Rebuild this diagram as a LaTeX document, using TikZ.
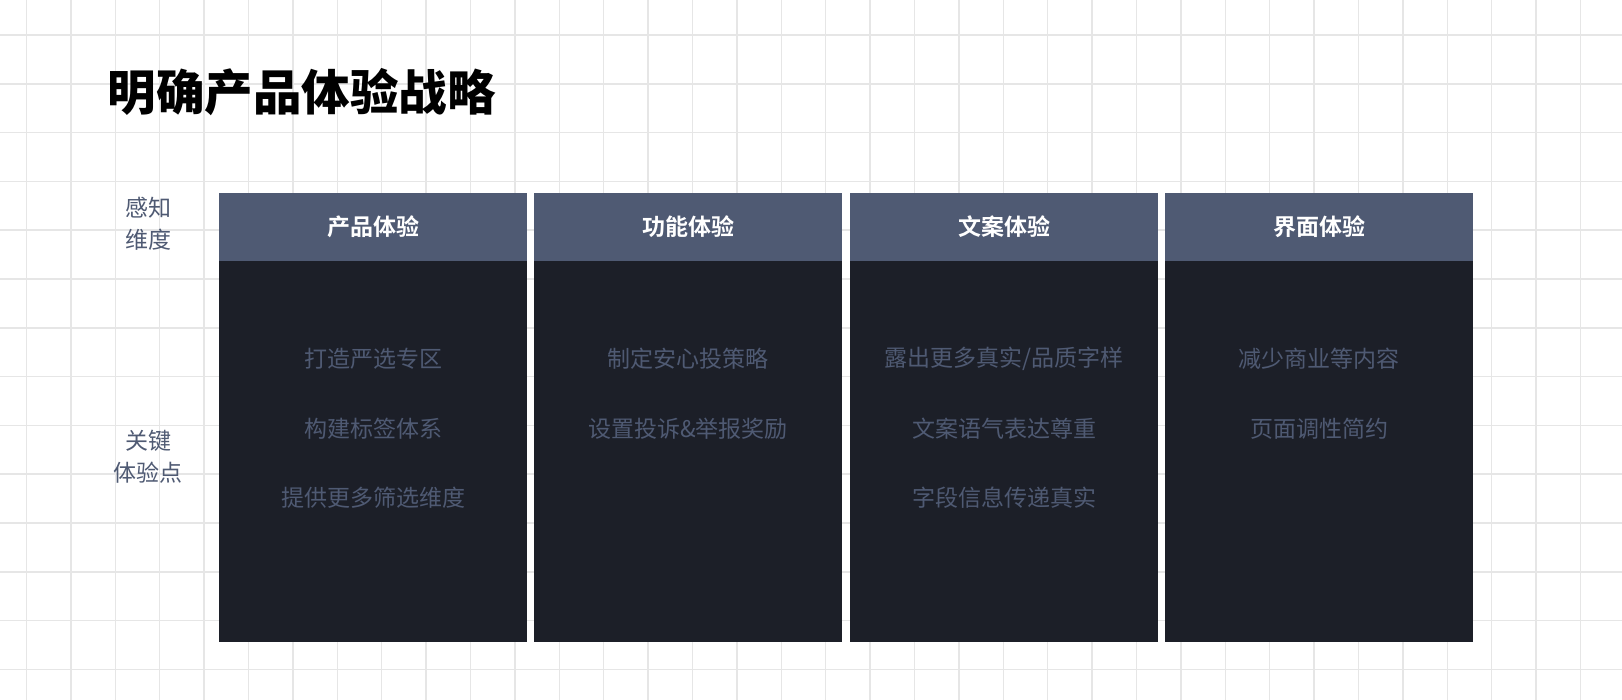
\documentclass[tikz,border=0pt]{standalone}
\usepackage{fontspec}
\newfontfamily\cjk{Noto Sans CJK SC}[BoldFont={Noto Sans CJK SC Bold}]
\newfontfamily\cjktitle{Noto Sans CJK SC Black}
\definecolor{gridgray}{HTML}{E6E6E6}
\definecolor{headblue}{HTML}{4F5A73}
\definecolor{bodydark}{HTML}{1C1F28}
\definecolor{textblue}{HTML}{4F5A73}
\tikzset{
  headbox/.style={fill=headblue, minimum width=308pt, minimum height=68pt, inner sep=0pt,
    text=white, font=\cjk\bfseries\fontsize{23}{23}\selectfont},
  bodybox/.style={fill=bodydark, minimum width=308pt, minimum height=381pt, inner sep=0pt},
  item/.style={text=textblue, font=\cjk\fontsize{23}{23}\selectfont},
  side/.style={text=textblue, align=center, font=\cjk\fontsize{23}{32}\selectfont}
}
\begin{document}
\begin{tikzpicture}[x=1pt,y=-1pt]
  \useasboundingbox (0,0) rectangle (1622,700);
  \fill[white] (0,0) rectangle (1622,700);
  \foreach \i in {0,...,36} \draw[gridgray, line width=1.5pt] (26.5+44.4*\i,0) -- (26.5+44.4*\i,700);
  \foreach \j in {0,...,13} \draw[gridgray, line width=1.5pt] (0,35+48.8*\j) -- (1622,35+48.8*\j);
  \node[anchor=west, font=\cjktitle\fontsize{48.5}{48.5}\selectfont] (title) at (104,92) {明确产品体验战略};
  \node[side] (perceive) at (148,224) {感知\\维度};
  \node[side] (keypoint) at (148,457) {关键\\体验点};
  \foreach \x/\name/\head in {373/prod/产品体验, 688/func/功能体验, 1004/copy/文案体验, 1319/ui/界面体验} {
    \node[headbox] (\name-head) at (\x,227) {\head};
    \node[bodybox, anchor=north] (\name-body) at (\name-head.south) {};
  }
  \node[item] (prod-a) at (373,359) {打造严选专区};
  \node[item] (prod-b) at (373,429) {构建标签体系};
  \node[item] (prod-c) at (373,498) {提供更多筛选维度};
  \node[item] (func-a) at (688,359) {制定安心投策略};
  \node[item] (func-b) at (688,429) {设置投诉\&举报奖励};
  \node[item] (copy-a) at (1004,359) {露出更多真实/品质字样};
  \node[item] (copy-b) at (1004,429) {文案语气表达尊重};
  \node[item] (copy-c) at (1004,498) {字段信息传递真实};
  \node[item] (ui-a) at (1319,359) {减少商业等内容};
  \node[item] (ui-b) at (1319,429) {页面调性简约};
\end{tikzpicture}
\end{document}
